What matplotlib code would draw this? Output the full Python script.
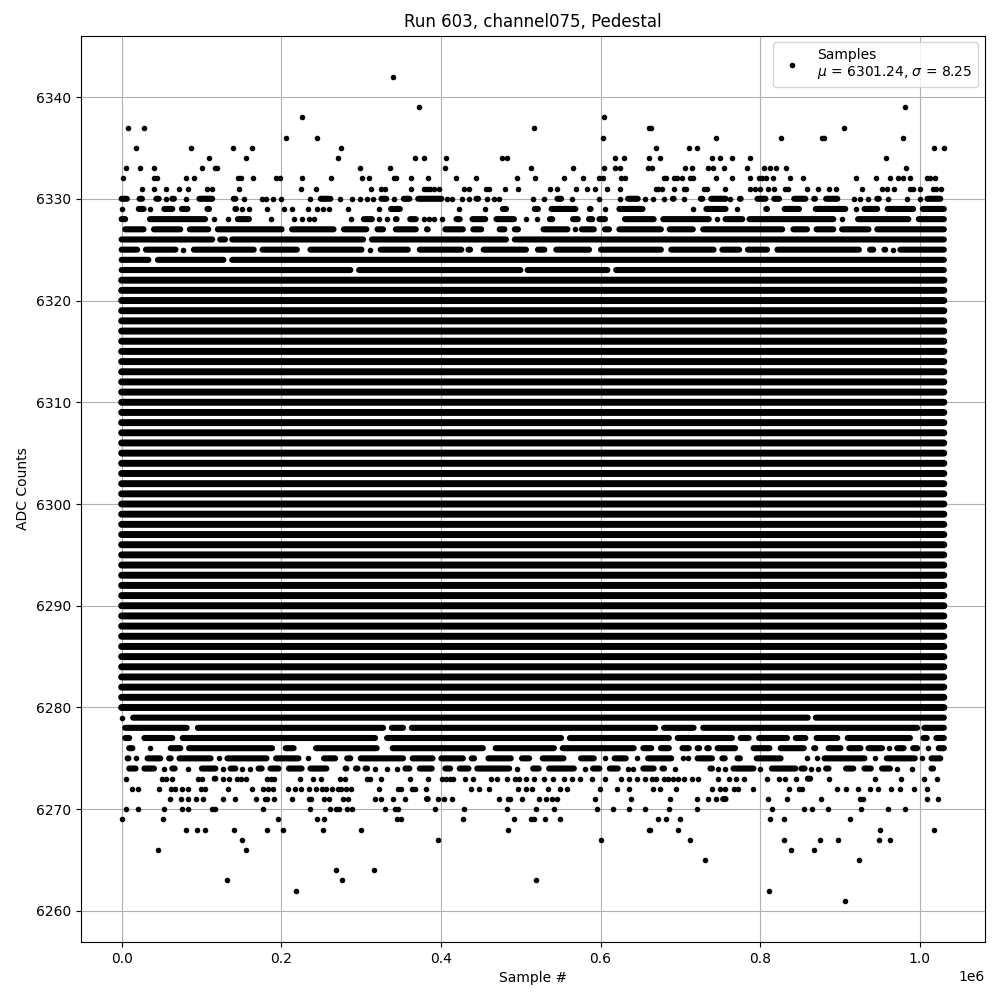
import matplotlib
matplotlib.use("Agg")
import matplotlib.pyplot as plt
import numpy as np

# all sample positions in thousands of samples
# a number is a single sample, a tuple is an unbroken run of samples (outer edges as seen)
first_sample = 0
last_sample = 1030

solid_levels = np.arange(6280, 6323)

# rows above the solid band
row_6323 = [(0, 290), (294, 503), (505, 612), (616, 1030)]
row_6324 = [(0, 37), (42, 131), (135, 1030)]
row_6325 = [(0, 23), (27, 71), 77, (87, 169), (173, 223), (233, 304), 311, (321, 362),
            (370, 429), (431, 440), (450, 510), (518, 533), (541, 589), (597, 679),
            (685, 745), (749, 777), (781, 812), (818, 927), (934, 945), (952, 960), 966,
            (972, 1030)]
row_6326 = [(0, 117), (120, 133), (135, 306), (310, 485), (489, 1030)]
row_6327 = [(1, 31), (37, 77), (82, 112), (117, 204), (210, 269), (275, 310), (317, 331),
            (340, 372), (379, 387), (402, 431), (437, 454), (460, 466), (470, 483),
            (489, 500), (507, 513), (525, 562), 567.5, (573, 595), (602, 614), (620, 679),
            (683, 719), (725, 831), (838, 862), (867, 895), (899, 939), (943, 1030)]
row_6328 = [(0, 8), (17, 24), (32, 108), 116, 133, (142, 163), (177, 182), 187, (204, 210),
            216, 226, 235, 241, (250, 254), (273, 279), 287, (300, 317), 323, 332, (340, 348),
            (358, 372), 379, 385, 391, 401, (416, 427), (436, 459), (466, 495), 506, 520,
            (533, 543), (550, 556), (562, 575), (582, 593), (595, 609), (614, 620),
            (627, 670), (675, 739), 746, (753, 781), (783, 895), 902, (919, 989), (995, 1030)]
row_6329 = [1, (18, 31), 36, (50, 67), (72, 86), (90, 97), (104, 113), (128, 133), (139, 147),
            151, 160, 182, 203, 214, 233, 245, 252, 260, (265, 272), 283, (294, 300), 323,
            (334, 352), 422.5, (429, 436), 455, (474, 485), (514, 525), (535, 572), (583, 591),
            606, (620, 656), (664, 670), (689, 693), 716, (729, 760), 771, (783, 789),
            (804, 812), (827, 852), (866, 910), 920, (927, 950), (956, 995), (1000, 1030)]
row_6330 = [(0, 10), (19, 29), (40, 50), 55, (60, 69), 81, (94, 117), (122, 128), (137, 146),
            153, (166, 171), 176, 181, 190, 200, 236, (246, 265), 273, 288, 299, 308, 315,
            (322, 335), 341, (350, 364), (368, 404), 408, 414, 427, 435, (441, 450), 457.5,
            466, 472.5, (480, 485), (500, 506), 515, 529, (542.5, 554), 564, (577, 584), 597.5,
            (611, 615), 624, (631, 650), 656, 666, 679, (687, 695), 704, (722, 731), (735, 760),
            762, (771, 779), (793, 810), (814, 827), (839, 860), (864, 872), (879, 900), 917,
            925, 935, (943, 952), 960, 984, 1000, (1006, 1029)]
row_6331 = [25, 40, 55, 72, 83, 107, 113, 147, 225, 243, 313, 325, 330, 362.5, 379, 382, 386,
            391, 397, 429, 435, 456, 460, 480, 496, 536, 545, 569, 582.5, 592.5, 607.5, 624,
            669, 672.5, 677.5, 692.5, 704, 707, 729, 733, 756, 787, 794, 800, 810, 817.5, 831,
            835, 859, 872.5, 886, 895, 927.5, 952.5, 959, 967.5, 988, 991, 1000, 1016, 1020, 1027]
row_6332 = [2, 40, 44, 81, 91, 146, 150, 165, 193, 199, 226, 262, 301, 310, 341, 344, 362.5, 384,
            419, 444, 495, 517.5, 554, 577.5, 597.5, 602.5, 626, 631, 679, 682.5, 692, 696, 702.5,
            712.5, 716, 744, 764, 787.5, 799, 802, 807.5, 816, 837.5, 854, 920, 945, 962.5, 972.5,
            979, 987, 1009, 1013, 1019]
row_6333 = [6, 23, 40, 101, 117, 120, 298, 336, 405, 512.5, 566, 604, 617.5, 624, 659, 665, 706,
            715, 734, 741, 755, 784, 805, 812.5, 820, 832.5, 982.5]
row_6334 = [110, 156, 271, 367.5, 379, 406, 476, 482.5, 617.5, 629, 661, 674, 739, 749, 765,
            787.5, 957.5]
row_6335 = [18, 87, 140, 163, 275, 669, 711, 721, 1017, 1030]
row_6336 = [206, 245, 602.5, 745, 826, 877, 880, 979]
row_6337 = [8, 28, 516, 660, 663, 905]
row_6338 = [226, 604]
row_6339 = [372.5, 981]
row_6342 = [340]

# rows below the solid band
row_6279 = [0, (11, 863), (866, 1030)]
row_6278 = [(1, 85), (92, 331), (335, 356), (360, 672), (676, 720), (725, 1000), (1002, 1030)]
row_6277 = [(1, 13), (25, 67), (73, 321), (329, 554), (558, 689), (693, 768), (772, 789),
            (795, 837), (841, 860), (867, 900), (906, 991), (1001, 1012), (1017, 1030)]
row_6276 = [(6, 17), (23, 29), 36, (44, 50), (58, 77), (81, 192), (202, 219), (227, 233),
            (240, 323), (336, 456), (465, 545), (549, 645), (650, 667), (672, 689), (699, 714),
            (718, 727), (730, 739), (743, 772), (777, 782), (788, 815), (822, 858), (864, 872.5),
            (882, 904), (908, 929), (932, 956), 961, (968, 983), (988, 1000), 1010, (1020, 1030)]
row_6275 = [(4, 12), 18, (29, 52), (56, 65), (69, 115), 122, (129, 185), (190, 225), 233,
            (250, 271), (279, 290), (296, 356), (361, 393), (397, 431), (435, 445), (456, 491),
            (498, 514), (524, 557), (562, 568), (572, 595), 605, (614, 635), 646, (656, 692), 703,
            710, (718, 743), (749, 759), (768, 778), (792, 829), (834, 841), 859, 871, (877, 934),
            944, (955, 997), 1002.5, (1011, 1029)]
row_6274 = [(6, 21), (25, 44), 53, (60, 70), (73, 77), 83, (97, 121), 127, (133, 146), 151, 161,
            (168, 179), (183, 200), (206, 229), (233, 260), (277, 285), (290, 299), (302, 311),
            317, 333, 345, (352, 364), (370, 392), (402, 415), (420, 438), (442, 489), 495,
            (512, 526), (532, 570), 580, (587, 602), (608, 625), 634, 641, (650, 670), (674, 683),
            693, (708, 714), (734, 743), 747.5, 756, (763, 795), 800, (811, 847.5), (848, 859),
            864, 872.5, (879, 889), (904, 920), (927, 942), (949, 966), 971, 990, (1011, 1020)]
row_6273 = [6, 50, 55, 63, 96, 101, (113, 121), 127, 135, 145, 150, 156, 182, 187, 191, 223, 240,
            250, 273, 280, 307, 311, 325, 361, 384, 401, 406, 411, 415, 430, 440, 462.5, 470,
            482.5, 492.5, 497.5, 506, 516, 529, 540, 554, 564, 574, 589, 606, 626, 635, 646, 655,
            664, 670, 679, 684, 691, 697.5, 705, 714, 722, 747.5, 761, 770, 779, 809, 824, 831,
            845, (856, 866), 886, (895, 902), (914, 919), 944, (951, 956), 976, 1005, 1021]
row_6272 = [13, 20, 47, 62, 67, 76, 83, 100, 105, 133, 163, 177, 183, 190, 208, 217, 225, 235, 243,
            251, 256, 263, 271, 275, 281, 287, 322, 346, 350, 364, 367, 381, 437.5, 447.5, 460, 496,
            506, 514, 534, 549, 557.5, 599, 620, 635, 666, 674, 695, 739, 750, 756, 767.5, 772.5,
            791, 836, 849, 852.5, 896, 907.5, 922.5, 937.5, 947.5, 964, 975, 992.5, 1009]
row_6271 = [61, 75, 83, 93, 102, 127, 142, 168, 180, 182, 191, 213, 235, 237, 253, 260, 277, 283,
            317, 325, 340, 355, (379, 387), 396, 404, 414, 472.5, 484, 487, 501, 522.5, 531, 539,
            546, 592.5, 637.5, 687.5, 721, 734, 744, (750, 760), 810, 834, 876, 925, 929, 1009, 1022.5]
row_6270 = [5, 20, 53, 76, 83, 113, 117, 177, 236, 261, 268, 272, 282, 288, 330, 342, 346, 392.5,
            429, 482.5, 519, 541, 595, 616, 635, 655, 686, 721, 815, 855, 865, 885, 926, 960, 981]
row_6269 = [1, 52, 196, 245, 253, 345, 350, 427.5, 491, 512.5, 516, 530, 549, 672.5, 682.5, 700,
            812.5, 830, 912.5]
row_6268 = [81, 95, 105, 141, 182, 202, 252, 300, 484, 660, 662, 697.5, 950, 1017.5]
row_6267 = [151, 396, 601, 712.5, 830, 875, 897.5, 949, 962.5]
row_6266 = [46, 156, 839, 867.5]
row_6265 = [731, 924]
row_6264 = [268, 316]
row_6263 = [132, 276, 519]
row_6262 = [218, 811]
row_6261 = [906]

rows = {6342: row_6342, 6339: row_6339, 6338: row_6338, 6337: row_6337, 6336: row_6336,
        6335: row_6335, 6334: row_6334, 6333: row_6333, 6332: row_6332, 6331: row_6331,
        6330: row_6330, 6329: row_6329, 6328: row_6328, 6327: row_6327, 6326: row_6326,
        6325: row_6325, 6324: row_6324, 6323: row_6323, 6279: row_6279, 6278: row_6278,
        6277: row_6277, 6276: row_6276, 6275: row_6275, 6274: row_6274, 6273: row_6273,
        6272: row_6272, 6271: row_6271, 6270: row_6270, 6269: row_6269, 6268: row_6268,
        6267: row_6267, 6266: row_6266, 6265: row_6265, 6264: row_6264, 6263: row_6263,
        6262: row_6262, 6261: row_6261}

# half a dot in thousands of samples, the runs were read from their outer edges
half_dot = 3.5


def draw_run(ax, start, end, level, width=4.4):
    if start > first_sample:
        start = start + half_dot
    if end < last_sample:
        end = end - half_dot
    if end < start:
        start = end = (start + end) / 2
    ax.plot([start * 1000, end * 1000], [level, level], "-", color="k", lw=width,
            solid_capstyle="round", snap=False)


fig = plt.figure(figsize=(10, 10), dpi=100)
ax = fig.add_subplot(111)

# the full rows are piles of overlapping dots, so they come out a bit thicker
for level in solid_levels:
    draw_run(ax, first_sample, last_sample, level, width=5)

dots_x = []
dots_y = []
for level, items in rows.items():
    for item in items:
        if isinstance(item, tuple):
            draw_run(ax, item[0], item[1], level)
        else:
            dots_x.append(item * 1000)
            dots_y.append(level)

ax.plot(dots_x, dots_y, "k.", label="Samples\n$\\mu$ = 6301.24, $\\sigma$ = 8.25")

ax.set_title("Run 603, channel075, Pedestal")
ax.set_xlabel("Sample #")
ax.set_ylabel("ADC Counts")
ax.grid(True)
ax.legend(loc="upper right")
fig.subplots_adjust(left=0.0805, right=0.985, bottom=0.058, top=0.9645)
fig.savefig("out.png", dpi=100)
